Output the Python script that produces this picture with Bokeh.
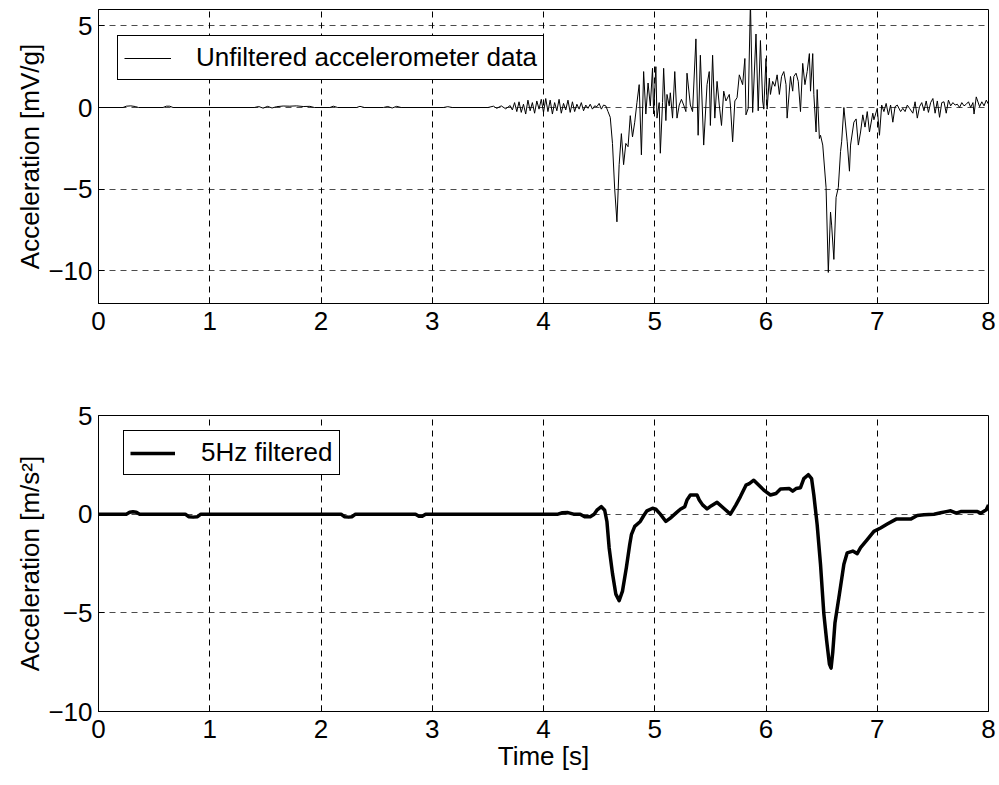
from bokeh.plotting import figure
from bokeh.models import Range1d, FixedTicker, Legend, LegendItem
from bokeh.layouts import column
from bokeh.embed import file_html
from bokeh.resources import INLINE

# ---------------- data: unfiltered accelerometer signal (top) ----------------
t_quiet = [0.00, 0.22, 0.25, 0.29, 0.33, 0.36, 0.58, 0.61, 0.64, 0.67, 1.40, 1.44, 1.48, 1.52,
           1.56, 1.60, 1.66, 1.72, 1.78, 1.84, 1.90, 1.94, 2.08, 2.11, 2.15, 2.32, 2.35, 2.39,
           2.56, 2.60, 2.64, 2.68, 2.72, 3.10, 3.14, 3.18, 3.50, 3.55, 3.58, 3.62, 3.66, 3.70]
a_quiet = [0.00, 0.00, 0.08, 0.10, 0.06, 0.00, 0.00, 0.08, 0.08, 0.00, 0.00, 0.06, -0.04, 0.07,
           -0.03, 0.05, 0.09, 0.08, 0.10, 0.06, 0.07, 0.00, 0.00, 0.08, 0.00, 0.00, 0.07, 0.00,
           0.00, 0.06, -0.03, 0.07, 0.00, 0.00, 0.05, 0.00, 0.00, 0.08, -0.05, 0.10, -0.08, 0.12]

t_pre = [3.72, 3.74, 3.76, 3.78, 3.80, 3.82, 3.84, 3.86, 3.88, 3.90, 3.92, 3.94, 3.96, 3.98,
         4.00, 4.02, 4.04, 4.06, 4.08, 4.10, 4.12, 4.14, 4.16, 4.18, 4.20, 4.22, 4.24, 4.26,
         4.28, 4.30, 4.32, 4.34, 4.36, 4.38, 4.40, 4.42, 4.44, 4.46, 4.48, 4.50, 4.52, 4.54, 4.56]
a_pre = [-0.15, 0.30, -0.25, 0.35, -0.30, 0.20, -0.40, 0.45, -0.20, 0.30,
         -0.35, 0.40, -0.10, 0.50, -0.30, 0.55, -0.25, 0.45, -0.40, 0.30,
         -0.20, 0.50, -0.35, 0.25, -0.15, 0.45, -0.30, 0.35, -0.25, 0.20,
         -0.10, 0.30, -0.20, 0.15, -0.05, 0.20, -0.10, 0.10, 0.05, 0.25,
         -0.10, 0.15, 0.10]

t_ev1 = [4.58, 4.60, 4.62, 4.64, 4.66, 4.68, 4.70, 4.72, 4.74, 4.76, 4.78, 4.80, 4.82, 4.84,
         4.86, 4.88, 4.90, 4.92, 4.94, 4.96, 4.98, 4.99, 5.01, 5.02, 5.04, 5.05, 5.07, 5.08,
         5.10, 5.11, 5.13, 5.14, 5.16, 5.18, 5.20, 5.22, 5.24, 5.26, 5.28, 5.29, 5.32, 5.34]
a_ev1 = [-0.25, -0.60, -2.20, -5.00, -7.00, -3.50, -1.60, -3.50, -2.20, -2.40,
         -0.50, -1.80, -0.90, 0.30, 1.40, -2.90, 2.20, -0.40, 1.50, 0.10, 2.40,
         -0.40, 2.50, -0.65, 0.30, -2.80, 0.30, 2.40, -0.80, 0.80, 0.10,
         0.90, -0.65, 2.20, -0.65, 0.15, 0.50, 0.15, -0.25, 2.10, 0.15, -0.25]

t_ev2 = [5.37, 5.39, 5.41, 5.44, 5.47, 5.49, 5.50, 5.52, 5.54, 5.56,
         5.58, 5.60, 5.62, 5.64, 5.67, 5.68, 5.70, 5.72, 5.74, 5.76,
         5.79, 5.81, 5.82, 5.84, 5.86, 5.88, 5.91, 5.93, 5.95, 5.97,
         5.98, 6.00, 6.01, 6.03, 6.04, 6.06, 6.08, 6.10, 6.12, 6.14,
         6.16, 6.18, 6.19, 6.22, 6.24, 6.25, 6.27, 6.29, 6.31, 6.33,
         6.35, 6.37, 6.39, 6.40, 6.42, 6.43]
a_ev2 = [4.20, -1.70, 3.20, -2.30, 1.40, 2.20, -1.10, 3.20, -0.65, 1.60,
         0.15, -1.10, 1.00, 0.40, 0.80, 0.15, -2.10, 0.40, 0.60, 2.00,
         1.40, 3.00, -0.45, -0.05, 6.50, -0.30, 4.50, -0.20, 4.10, 0.40,
         -0.10, 3.00, -0.10, 1.80, 0.80, 1.60, 1.30, 2.00, 0.80, 1.90,
         2.20, 1.40, -0.65, 1.90, 1.00, 1.90, 2.10, 1.60, -0.25, 2.70,
         1.40, 2.20, 3.30, 1.00, 3.30, 0.80]

t_ev3 = [6.45, 6.46, 6.48, 6.49, 6.51, 6.54, 6.56, 6.58, 6.59, 6.61,
         6.63, 6.65, 6.67, 6.68, 6.70, 6.73, 6.75, 6.76, 6.79, 6.81,
         6.83, 6.85, 6.87, 6.89, 6.91, 6.93, 6.96, 6.97, 7.00, 7.02,
         7.04, 7.06, 7.08, 7.10, 7.12, 7.14, 7.16, 7.18, 7.21, 7.23,
         7.25, 7.27, 7.29, 7.32, 7.34, 7.36, 7.38]
a_ev3 = [-1.50, 1.10, -1.90, -1.70, -2.30, -4.90, -10.10, -6.40, -7.20, -9.30,
         -5.50, -4.90, -2.70, -2.10, 0.00, -2.10, -3.90, -2.30, -0.90, -0.70,
         -2.30, -1.50, -0.45, -1.20, -0.25, -1.50, -0.35, -0.75, -0.05, -1.70,
         0.15, -0.25, 0.25, -0.45, 0.15, -0.90, 0.05, 0.15, -0.25, -0.05,
         -0.25, 0.15, -0.05, -0.35, 0.35, -0.65, 0.05]

t_post = [7.40, 7.42, 7.44, 7.46, 7.48, 7.50, 7.52, 7.54, 7.56, 7.58,
          7.60, 7.62, 7.64, 7.66, 7.68, 7.70, 7.72, 7.74, 7.76, 7.78,
          7.80, 7.82, 7.84, 7.86, 7.87, 7.89, 7.92, 7.94, 7.96, 7.98, 8.00]
a_post = [0.30, -0.20, 0.40, -0.30, 0.30, 0.55, -0.35, 0.40, -0.60, 0.30,
          0.35, -0.35, 0.45, 0.10, 0.30, 0.15, 0.20, 0.00, 0.30, 0.10,
          0.20, 0.35, 0.00, 0.30, -0.40, 0.65, 0.05, 0.35, 0.10, 0.45, 0.20]

# ---------------- data: 5 Hz filtered signal (bottom) ----------------
t_f1 = [0.00, 0.25, 0.28, 0.31, 0.34, 0.37, 0.78, 0.81, 0.85, 0.89, 0.92, 2.18, 2.21, 2.25,
        2.28, 2.31, 2.85, 2.88, 2.91, 2.94, 4.13, 4.17, 4.22, 4.27, 4.33, 4.37, 4.42, 4.455]
a_f1 = [0.00, 0.00, 0.10, 0.12, 0.10, 0.00, 0.00, -0.13, -0.15, -0.13, 0.00, 0.00, -0.13, -0.15,
        -0.13, 0.00, 0.00, -0.10, -0.10, 0.00, 0.00, 0.07, 0.08, 0.00, 0.00, -0.13, -0.13, 0.00]

t_f2 = [4.48, 4.52, 4.55, 4.57, 4.59, 4.62, 4.65, 4.68, 4.71, 4.745,
        4.775, 4.79, 4.82, 4.87, 4.90, 4.93, 4.98, 5.01, 5.05, 5.10,
        5.14, 5.19, 5.23, 5.27, 5.29, 5.32, 5.38, 5.40, 5.43, 5.47,
        5.51, 5.56, 5.62, 5.68, 5.73, 5.77, 5.82, 5.85, 5.89, 5.92,
        5.98, 6.04, 6.09, 6.13, 6.21, 6.24, 6.27, 6.31, 6.34, 6.38,
        6.41, 6.43]
a_f2 = [0.20, 0.38, 0.20, -0.37, -1.70, -3.00, -4.05, -4.38, -3.90, -2.70,
        -1.54, -1.04, -0.62, -0.37, -0.08, 0.17, 0.30, 0.25, 0.00, -0.37,
        -0.20, 0.05, 0.25, 0.38, 0.72, 0.97, 0.97, 0.72, 0.47, 0.27,
        0.43, 0.60, 0.30, 0.00, 0.47, 0.89, 1.47, 1.55, 1.72, 1.55,
        1.22, 0.97, 1.05, 1.27, 1.30, 1.17, 1.30, 1.34, 1.80, 2.00,
        1.80, 0.97]

t_f3 = [6.46, 6.49, 6.52, 6.545, 6.57, 6.585, 6.60, 6.62, 6.66, 6.70,
        6.73, 6.78, 6.82, 6.85, 6.91, 6.97, 7.03, 7.09, 7.17, 7.30,
        7.36, 7.42, 7.51, 7.57, 7.62, 7.66, 7.71, 7.75, 7.81, 7.90,
        7.93, 7.98, 8.00]
a_f3 = [-0.54, -2.54, -5.05, -6.40, -7.60, -7.80, -7.00, -5.50, -4.05, -2.54,
        -1.96, -1.87, -2.00, -1.70, -1.29, -0.87, -0.70, -0.50, -0.25, -0.25,
        -0.07, -0.03, 0.00, 0.07, 0.13, 0.17, 0.05, 0.13, 0.13, 0.13,
        0.05, 0.22, 0.47]

x_ticks = [0, 1, 2, 3, 4, 5, 6, 7, 8]
y_ticks = [-10, -5, 0, 5]

t_raw = t_quiet + t_pre + t_ev1 + t_ev2 + t_ev3 + t_post
a_raw = a_quiet + a_pre + a_ev1 + a_ev2 + a_ev3 + a_post
t_filt = t_f1 + t_f2 + t_f3
a_filt = a_f1 + a_f2 + a_f3
assert len(t_raw) == len(a_raw) and len(t_filt) == len(a_filt)

FONT = "Liberation Sans"
FS = "26px"


def style(p, ylabel, xlabel=None):
    p.outline_line_color = "black"
    p.outline_line_width = 1
    p.outline_line_alpha = 1
    p.background_fill_color = "white"
    p.border_fill_color = "white"
    for ax in (p.xaxis[0], p.yaxis[0]):
        ax.axis_line_color = "black"
        ax.major_tick_line_color = "black"
        ax.major_tick_in = 6
        ax.major_tick_out = 0
        ax.minor_tick_line_color = None
        ax.major_label_text_font = FONT
        ax.major_label_text_font_size = FS
        ax.major_label_text_color = "black"
        ax.axis_label_text_font = FONT
        ax.axis_label_text_font_size = FS
        ax.axis_label_text_font_style = "normal"
        ax.axis_label_text_color = "black"
    p.xaxis.ticker = FixedTicker(ticks=x_ticks)
    p.yaxis.ticker = FixedTicker(ticks=y_ticks)
    p.yaxis.axis_label = ylabel
    p.yaxis.major_label_standoff = 6
    p.yaxis.axis_label_standoff = 0
    p.xaxis.major_label_standoff = 8
    if xlabel:
        p.xaxis.axis_label = xlabel
        p.xaxis.axis_label_standoff = 0
    for g in (p.xgrid[0], p.ygrid[0]):
        g.grid_line_color = "black"
        g.grid_line_dash = "6 5"
        g.grid_line_width = 1
    p.ygrid.grid_line_alpha = 0.7


def make_legend(label, renderer, loc, gw, standoff):
    return Legend(items=[LegendItem(label=label, renderers=[renderer])],
                  location=loc, margin=0, padding=6, spacing=0,
                  glyph_width=gw, glyph_height=24, label_standoff=standoff,
                  label_text_font=FONT, label_text_font_size=FS, label_text_color="black",
                  border_line_color="black", border_line_width=1, border_line_alpha=1,
                  background_fill_color="white", background_fill_alpha=1)


p1 = figure(width=999, height=360, x_range=Range1d(0, 8), y_range=Range1d(-12, 6),
            output_backend="svg", toolbar_location=None,
            min_border_left=98, min_border_right=11, min_border_top=9, min_border_bottom=57)
style(p1, "Acceleration [mV/g]")
r1 = p1.line(t_raw, a_raw, line_color="black", line_width=1)
p1.add_layout(make_legend("Unfiltered accelerometer data", r1, (19, 223), 47, 25), "center")

p2 = figure(width=999, height=425, x_range=Range1d(0, 8), y_range=Range1d(-10, 5),
            output_backend="svg", toolbar_location=None,
            min_border_left=98, min_border_right=11, min_border_top=55, min_border_bottom=74)
style(p2, "Acceleration [m/s²]", "Time [s]")
r2 = p2.line(t_filt, a_filt, line_color="black", line_width=3.5, line_join="round")
p2.add_layout(make_legend("5Hz filtered", r2, (25, 236), 45, 26), "center")

layout = column(p1, p2, spacing=0)
open("out.html", "w").write(file_html(layout, INLINE))
